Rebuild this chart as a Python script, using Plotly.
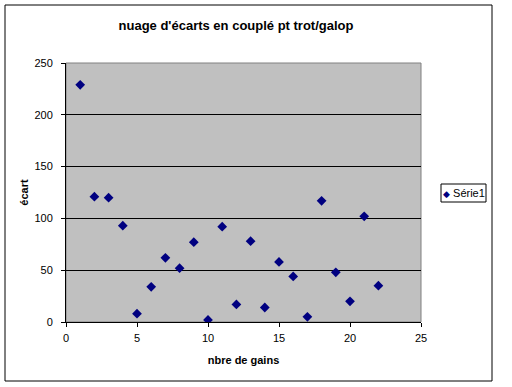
import plotly.graph_objects as go

x_gains = [1, 2, 3, 4, 5, 6, 7, 8, 9, 10, 11, 12, 13, 14, 15, 16, 17, 18, 19, 20, 21, 22]
ecart = [229, 121, 120, 93, 8, 34, 62, 52, 77, 2, 92, 17, 78, 14, 58, 44, 5, 117, 48, 20, 102, 35]
series_name = "Série1"
title_text = "nuage d'écarts en couplé pt trot/galop"
x_title = "nbre de gains"
y_title = "écart"

W, H = 512, 387
L, R, T, B = 66, 421, 63, 322  # plot area pixel box


def px(X):
    return (X - L) / (R - L)


def py(Y):
    return (B - Y) / (B - T)


font = "Arial, Liberation Sans, sans-serif"

fig = go.Figure()
fig.add_trace(go.Scatter(
    x=x_gains, y=ecart, mode="markers", name=series_name,
    marker=dict(symbol="diamond", size=7.5, color="#000080",
                line=dict(width=0)),
))

fig.update_layout(
    width=W, height=H,
    margin=dict(l=L, r=W - R, t=T, b=H - B, pad=0, autoexpand=False),
    paper_bgcolor="white",
    plot_bgcolor="#c0c0c0",
    font=dict(family=font, size=11, color="black"),
    title=dict(text="<b>" + title_text + "</b>", x=236 / W, xanchor="center",
               y=1 - 25 / H, yanchor="middle", font=dict(size=13, family=font)),
    showlegend=False,
    xaxis=dict(range=[0, 25], tickvals=[0, 5, 10, 15, 20, 25],
               showgrid=False, zeroline=False, showline=True,
               linecolor="black", linewidth=1, ticks="outside", ticklen=4,
               tickcolor="black", tickfont=dict(size=11), ticklabelstandoff=2,
               title=dict(text="<b>" + x_title + "</b>", font=dict(size=11), standoff=13)),
    yaxis=dict(range=[0, 250], tickvals=[0, 50, 100, 150, 200, 250],
               showgrid=True, gridcolor="black", gridwidth=1, zeroline=False,
               showline=True, linecolor="black", linewidth=1, ticks="outside",
               ticklen=4, tickcolor="black", tickfont=dict(size=11),
               ticklabelstandoff=6,
               title=dict(text="<b>" + y_title + "</b>", font=dict(size=11), standoff=3)),
    shapes=[
        dict(type="rect", xref="paper", yref="paper", x0=0, x1=1, y0=0, y1=1,
             line=dict(color="#808080", width=1), layer="below"),
        dict(type="rect", xref="paper", yref="paper", x0=px(5), x1=px(492),
             y0=py(381), y1=py(5), line=dict(color="black", width=1)),
        dict(type="rect", xref="paper", yref="paper", x0=px(441), x1=px(486),
             y0=py(202), y1=py(184), line=dict(color="black", width=1),
             fillcolor="white"),
    ],
    annotations=[
        dict(xref="paper", yref="paper", x=px(463.5), y=py(193),
             xanchor="center", yanchor="middle", showarrow=False,
             text="<span style='color:#000080;font-size:9px'>◆</span> " + series_name,
             font=dict(size=11, family=font)),
    ],
)

fig.write_html("out.html", config={"displayModeBar": False},
               post_script="document.body.style.margin='0';document.body.style.overflow='hidden';")
